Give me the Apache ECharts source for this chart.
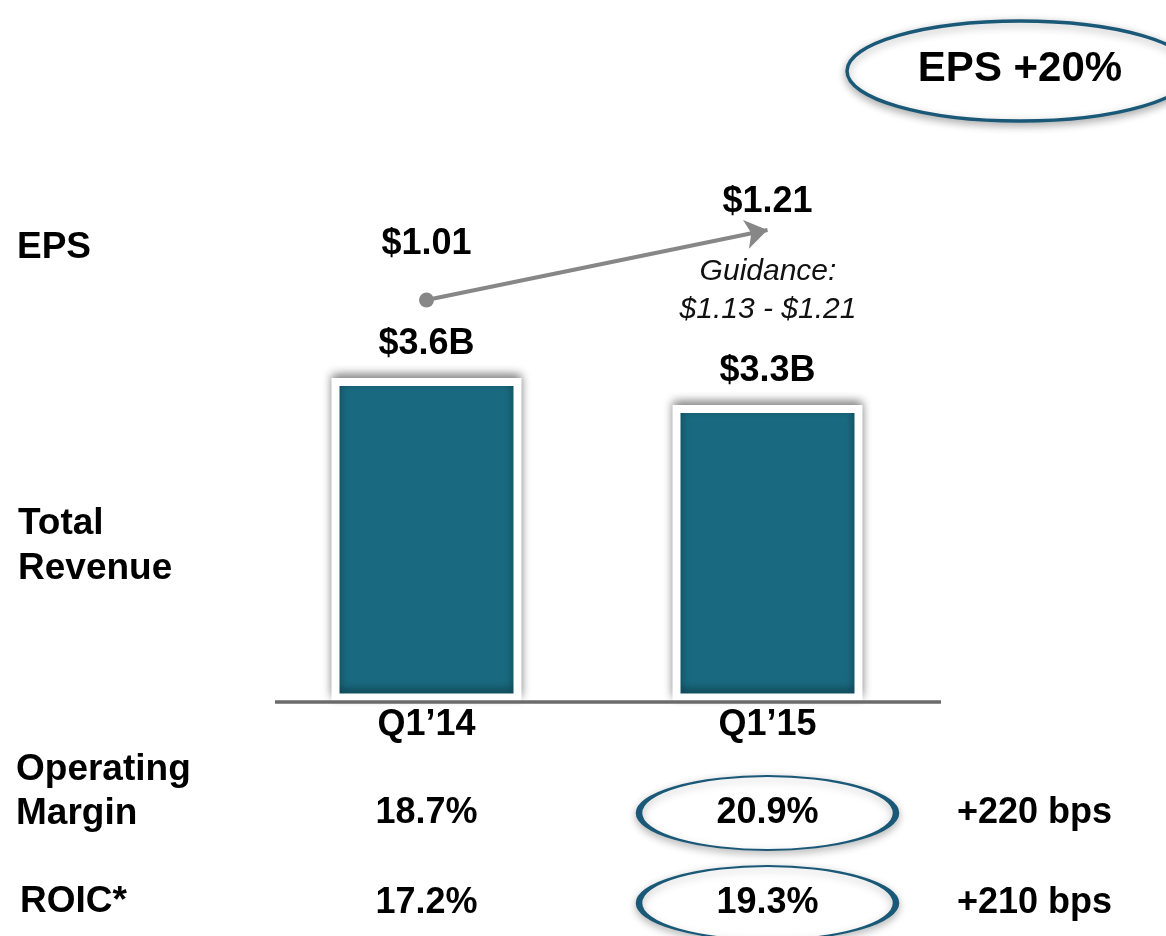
<!DOCTYPE html>
<html>
<head>
<meta charset="utf-8">
<title>Q1 results</title>
<script src="https://cdn.jsdelivr.net/npm/echarts@6/dist/echarts.min.js"></script>
<style>
  html, body { margin: 0; padding: 0; background: #fff; }
  #chart { width: 1166px; height: 936px; }
</style>
</head>
<body>
<div id="chart"></div>
<script>
  // data
  const quarters = ['Q1’14', 'Q1’15'];
  const revenue = [3.6, 3.3];          // $B
  const eps = [1.01, 1.21];            // $
  const rowNames = ['Operating Margin', 'ROIC*'];
  const opMargin = [18.7, 20.9];       // %
  const roic = [17.2, 19.3];           // %
  const bpsChange = [220, 210];
  const guidanceText = 'Guidance:\n$1.13 - $1.21';
  const epsGrowth = 'EPS +20%';

  const FONT = '"Liberation Sans", Arial, Helvetica, sans-serif';
  const teal = '#196a80';
  const ring = '#1a5877';
  const ellipsePath = 'path://M-1,0A1,1,0,1,0,1,0A1,1,0,1,0,-1,0Z';

  const tableRows = [opMargin, roic];

  function boldText(x, y, text, lh) {
    return {
      type: 'text', x: x, y: y, z: 20,
      style: {
        text: text, fill: '#000', fontSize: 37, fontWeight: 'bold', fontFamily: FONT,
        lineHeight: lh || 44, textVerticalAlign: 'middle', verticalAlign: 'middle'
      }
    };
  }

  const boldLabel = {
    color: '#000', fontSize: 36, fontWeight: 'bold', fontFamily: FONT
  };

  const chart = echarts.init(document.getElementById('chart'));

  chart.setOption({
    backgroundColor: '#fff',
    animation: false,
    grid: [
      {left: 256, right: 228, top: 342, height: 359.5},   // revenue bars
      {left: 256, right: 228, top: 230, height: 70},      // EPS arrow
      {left: 256, right: 228, top: 768, height: 168}      // table rows
    ],
    xAxis: [{
      type: 'category', gridIndex: 0, data: quarters,
      axisLine: {show: false}, axisTick: {show: false},
      axisLabel: Object.assign({margin: 6}, boldLabel)
    }, {
      type: 'category', gridIndex: 1, data: quarters, show: false
    }, {
      type: 'category', gridIndex: 2, data: quarters, show: false
    }],
    yAxis: [{
      type: 'value', gridIndex: 0, min: 0, max: 4, show: false
    }, {
      type: 'value', gridIndex: 1, min: 1.01, max: 1.21, show: false
    }, {
      // rows 0..1, 90px apart
      type: 'value', gridIndex: 2, min: -0.5, max: 1.3667, inverse: true, show: false
    }],
    series: [{
      name: 'Total Revenue',
      type: 'bar',
      xAxisIndex: 0, yAxisIndex: 0,
      data: revenue,
      barWidth: 190,
      itemStyle: {
        color: teal,
        borderColor: '#fff',
        borderWidth: 8,
        shadowBlur: 10,
        shadowColor: 'rgba(0,0,0,0.4)',
        shadowOffsetY: -4
      },
      label: Object.assign({
        show: true, position: 'top', distance: 16,
        formatter: p => '$' + p.value.toFixed(1) + 'B'
      }, boldLabel),
      silent: true
    }, {
      name: 'EPS',
      type: 'scatter',
      xAxisIndex: 1, yAxisIndex: 1,
      data: eps.map((v, i) => ({
        value: [i, v],
        symbolSize: i === 0 ? 15 : 0,
        label: {distance: i === 0 ? 30 : 10}
      })),
      itemStyle: {color: '#878787', opacity: 1},
      label: Object.assign({
        show: true, position: 'top',
        formatter: p => '$' + p.value[1].toFixed(2)
      }, boldLabel),
      markLine: {
        silent: true,
        symbol: ['none', 'arrow'],
        symbolSize: 22,
        label: {show: false},
        lineStyle: {color: '#878787', width: 4, type: 'solid', opacity: 1},
        data: [[{coord: [0, eps[0]]}, {coord: [1, eps[1]]}]]
      },
      silent: true
    }, {
      name: 'Prior year',
      type: 'scatter',
      xAxisIndex: 2, yAxisIndex: 2,
      data: tableRows.map((r, i) => [0, i, r[0]]),
      symbolSize: 0,
      itemStyle: {opacity: 1},
      label: Object.assign({
        show: true, position: 'inside',
        formatter: p => p.value[2].toFixed(1) + '%'
      }, boldLabel),
      silent: true
    }, {
      name: 'Current year',
      type: 'scatter',
      xAxisIndex: 2, yAxisIndex: 2,
      data: tableRows.map((r, i) => [1, i, r[1]]),
      symbol: ellipsePath,
      symbolSize: [257, 74],
      itemStyle: {
        color: '#fff', opacity: 1, borderColor: ring, borderWidth: 3.5,
        shadowBlur: 8, shadowColor: 'rgba(0,0,0,0.25)', shadowOffsetY: 3
      },
      label: Object.assign({
        show: true, position: 'inside',
        formatter: p => p.value[2].toFixed(1) + '%'
      }, boldLabel),
      silent: true
    }, {
      name: 'Change',
      type: 'scatter',
      xAxisIndex: 2, yAxisIndex: 2,
      data: bpsChange.map((v, i) => [1, i, v]),
      symbolSize: 0,
      itemStyle: {opacity: 1},
      label: Object.assign({
        show: true, position: 'inside', offset: [267, 0],
        formatter: p => '+' + p.value[2] + ' bps'
      }, boldLabel),
      silent: true
    }],
    graphic: [
      // baseline under the bars
      {type: 'line', z: 10, shape: {x1: 275, y1: 702, x2: 941, y2: 702},
        style: {stroke: '#6b6b6b', lineWidth: 3.5}},
      // EPS +20% callout
      {type: 'ellipse', z: 5, shape: {cx: 1020, cy: 71, rx: 173, ry: 50},
        style: {fill: '#fff', stroke: ring, lineWidth: 3.5,
          shadowBlur: 8, shadowColor: 'rgba(0,0,0,0.3)', shadowOffsetY: 3}},
      {type: 'text', x: 1020, y: 69, z: 20,
        style: {text: epsGrowth, fill: '#000', fontSize: 42, fontWeight: 'bold', fontFamily: FONT,
          textAlign: 'center', align: 'center', textVerticalAlign: 'middle', verticalAlign: 'middle'}},
      // guidance note
      {type: 'text', x: 768, y: 291, z: 20,
        style: {text: guidanceText, fill: '#111', fontSize: 30, fontStyle: 'italic', fontFamily: FONT,
          lineHeight: 38, textAlign: 'center', align: 'center',
          textVerticalAlign: 'middle', verticalAlign: 'middle'}},
      // row labels
      boldText(17, 248, 'EPS'),
      boldText(18, 546, 'Total\nRevenue', 45),
      boldText(16, 792, 'Operating\nMargin', 44),
      boldText(20, 902, 'ROIC*')
    ]
  });

  window.addEventListener('resize', () => chart.resize());
</script>
</body>
</html>
